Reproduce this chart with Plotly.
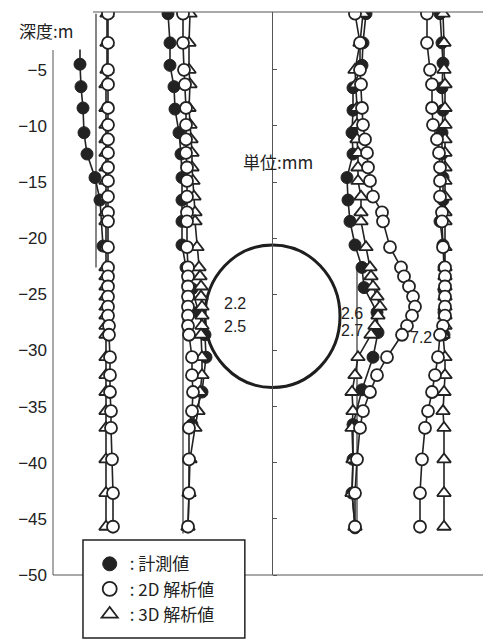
import plotly.graph_objects as go

# ---- data (horizontal position in chart units, depth in m) ----
depth_an = [0, -2.6, -5.0, -6.3, -8.4, -9.9, -11.2, -12.4, -13.7, -14.9, -16.3, -17.7, -18.5, -20.8,
            -22.6, -23.4, -24.3, -25.2, -26.1, -26.9, -27.8, -28.6, -30.6, -32.2, -33.7, -35.4,
            -36.9, -39.7, -42.7, -45.7]

# column A (left)
a_2d = [108]*20 + [109, 109, 110, 110, 110, 111, 111, 112, 113, 113]
a_3d = [107, 107, 107] + [106]*27
a_meas_depth = [-3.2, -4.5, -6.5, -8.4, -10.6, -12.5, -14.6, -16.6, -20.7]
a_meas = [80, 80, 81, 83, 84, 87, 95, 100, 103]

# column B (middle)
b_2d = [183, 183, 184, 185, 186, 186, 186, 186, 187, 187, 187, 187, 187, 187, 188, 188, 188, 188,
        188, 188, 188, 189, 192, 192, 193, 192, 189, 189, 189, 188]
b_3d = [190, 189, 189, 190, 189, 190, 191, 192, 192, 193, 194, 195, 195, 197, 199, 200, 201, 201,
        202, 202, 202, 201, 202, 202, 200, 198, 195, 190, 189, 188]
b_meas_depth = [0, -2.6, -4.6, -6.5, -8.5, -10.6, -12.5, -14.6, -16.6, -18.5, -20.6, -22.6, -24.5,
                -26.6, -28.6, -30.6, -33.7, -36.6]
b_meas = [168, 170, 170, 174, 175, 179, 181, 182, 182, 182, 182, 186, 192, 198, 205, 206, 202, 192]

# column C (right of tunnel)
c_2d = [355, 360, 360, 361, 362, 363, 365, 367, 368, 370, 373, 382, 383, 390, 401, 404, 409, 413,
        415, 412, 407, 402, 387, 377, 370, 363, 360, 357, 355, 355]
c_3d = [363, 360, 355, 356, 357, 357, 357, 358, 358, 358, 361, 361, 361, 366, 370, 371, 373, 377,
        380, 378, 375, 371, 358, 355, 352, 353, 352, 353, 352, 355]
c_meas_depth = [0, -2.6, -4.6, -6.6, -8.6, -10.6, -12.5, -14.6, -16.6, -18.5, -20.6, -22.6, -24.4,
                -26.6, -28.4, -30.6, -33.5, -36.6, -39.7, -42.7, -45.8]
c_meas = [366, 363, 362, 353, 353, 352, 353, 347, 348, 350, 355, 362, 364, 377, 378, 373, 362, 353,
          353, 352, 355]

# column D (far right)
d_2d = [427, 427, 430, 432, 432, 433, 437, 439, 440, 440, 440, 442, 442, 443, 445, 445, 445, 445,
        445, 445, 443, 440, 438, 435, 432, 428, 425, 422, 420, 420]
d_3d = [443, 444, 444, 445, 445, 445, 445, 445, 445, 445, 445, 445, 445, 445, 445, 445, 445, 445,
        445, 445, 445, 443, 445, 445, 444, 443, 444, 444, 444, 444]
d_meas_depth = [0, -2.6, -4.4, -6.6, -8.6, -10.6, -12.5, -14.6, -16.6, -18.5, -20.6, -22.6, -24.6,
                -26.6, -28.6]
d_meas = [440, 442, 443, 442, 443, 442, 442, 443, 443, 440, 443, 444, 444, 444, 444]

# reference lines (initial casing positions)
base_a_x, base_a_depth = [96, 96], [0, -22.6]
base_b_x, base_b_depth = [183, 183], [-22.6, -46.3]
base_c_x, base_c_depth = [357, 357], [-22.6, -46.3]

# tunnel outline (centre x, centre depth, half width, half height)
tunnel = dict(cx=272.5, cy=-26.95, rx=67.5, ry=6.35)

# value labels
val_labels = [("2.2", 235, -25.8), ("2.5", 235, -27.9), ("2.6", 352, -26.7),
              ("2.7", 352, -28.2), ("7.2", 421, -28.8)]
y_ticks = [-5, -10, -15, -20, -25, -30, -35, -40, -45, -50]
legend_names = [": 計測値", ": 2D 解析値", ": 3D 解析値"]

INK = "#222222"
LINE = dict(color=INK, width=1.6)
CJK = "Noto Sans CJK JP"
NUM = "Liberation Sans, Arial"

fig = go.Figure()

for bx, bd in [(base_a_x, base_a_depth), (base_b_x, base_b_depth), (base_c_x, base_c_depth)]:
    fig.add_trace(go.Scatter(x=bx, y=bd, mode="lines", line=dict(color="#444", width=1.3),
                             showlegend=False, hoverinfo="skip"))

filled = dict(symbol="circle", size=12, color=INK, opacity=1, line=dict(color=INK, width=1))
tri = dict(symbol="triangle-up", size=12, color="white", opacity=1, line=dict(color=INK, width=1.8))
opn = dict(symbol="circle", size=12, color="white", opacity=1, line=dict(color=INK, width=1.8))

# measured
a_sizes = [0] + [12]*(len(a_meas)-1)
fig.add_trace(go.Scatter(x=a_meas, y=a_meas_depth, mode="lines+markers", line=LINE,
                         marker=dict(filled, size=a_sizes), showlegend=False))
for xs, ds in [(b_meas, b_meas_depth), (c_meas, c_meas_depth), (d_meas, d_meas_depth)]:
    fig.add_trace(go.Scatter(x=xs, y=ds, mode="lines+markers", line=LINE, marker=filled,
                             showlegend=False))
# 3D
for xs in [a_3d, b_3d, c_3d, d_3d]:
    fig.add_trace(go.Scatter(x=xs, y=depth_an, mode="lines+markers", line=LINE, marker=tri,
                             showlegend=False))
# 2D
for xs in [a_2d, b_2d, c_2d, d_2d]:
    fig.add_trace(go.Scatter(x=xs, y=depth_an, mode="lines+markers", line=LINE, marker=opn,
                             showlegend=False))

# legend entries
for name, mk in zip(legend_names, [filled, opn, tri]):
    mk = dict(mk)
    mk["size"] = 14
    fig.add_trace(go.Scatter(x=[None], y=[None], mode="markers", marker=mk, name=name,
                             showlegend=True))

# dummy trace for centre axis
fig.add_trace(go.Scatter(x=[tunnel["cx"]], y=[-25], yaxis="y2", mode="markers",
                         marker=dict(opacity=0), showlegend=False, hoverinfo="skip"))

# tunnel
fig.add_shape(type="circle", xref="x", yref="y",
              x0=tunnel["cx"] - tunnel["rx"], x1=tunnel["cx"] + tunnel["rx"],
              y0=tunnel["cy"] - tunnel["ry"], y1=tunnel["cy"] + tunnel["ry"],
              line=dict(color="#1e1e1e", width=3), layer="below")

# frame lines (paper coords)
frame = dict(color="#555", width=1)
fig.add_shape(type="line", xref="paper", yref="paper", x0=0.0915, x1=1, y0=1, y1=1, line=frame)
fig.add_shape(type="line", xref="paper", yref="paper", x0=1, x1=1, y0=0, y1=1, line=frame)
fig.add_shape(type="line", xref="paper", yref="paper", x0=0, x1=1, y0=0, y1=0, line=frame)
fig.add_shape(type="line", xref="paper", yref="paper", x0=0, x1=0, y0=0, y1=0.9325, line=frame)
# legend box
fig.add_shape(type="rect", xref="paper", yref="paper", x0=0.0686, x1=0.439, y0=-0.112, y1=0.0622,
              fillcolor="white", line=dict(color=INK, width=1.5), layer="above")

for txt, x, d in val_labels:
    fig.add_annotation(x=x, y=d, xref="x", yref="y", text=txt, showarrow=False,
                       font=dict(family=NUM, size=16, color=INK))
fig.add_annotation(x=278, y=-13.2, xref="x", yref="y", text="単位:mm", showarrow=False,
                   font=dict(family=CJK, size=17, color=INK))
fig.add_annotation(x=-0.016, y=0.968, xref="paper", yref="paper", text="深度:m", showarrow=False,
                   xanchor="center", yanchor="middle",
                   font=dict(family=CJK, size=17, color=INK))

# page body has an 8px margin, so the figure is sized to fit the 491x640 window
fig.update_layout(
    width=483, height=632,
    margin=dict(l=45, r=1, t=4, b=65, autoexpand=False),
    paper_bgcolor="white", plot_bgcolor="white",
    font=dict(family=NUM, size=17, color=INK),
    xaxis=dict(range=[53, 490], showgrid=False, zeroline=False, showticklabels=False,
               ticks="", showline=False),
    yaxis=dict(range=[-50, 0.15], showgrid=False, zeroline=False, tickvals=y_ticks,
               ticks="", showline=False, ticklabelstandoff=5,
               tickfont=dict(family=NUM, size=17, color=INK)),
    yaxis2=dict(overlaying="y", anchor="free", position=(272 - 53) / 437, side="right",
                range=[-50, 0.15], showgrid=False, zeroline=False, tickvals=y_ticks,
                ticks="outside", ticklen=4, tickcolor="#555", showticklabels=False,
                showline=True, linecolor="#555", linewidth=1),
    showlegend=True,
    legend=dict(x=0.084, y=0.051, xanchor="left", yanchor="top", bgcolor="rgba(0,0,0,0)",
                borderwidth=0, font=dict(family=CJK, size=17, color=INK), tracegroupgap=0),
)

fig.write_html("out.html")
